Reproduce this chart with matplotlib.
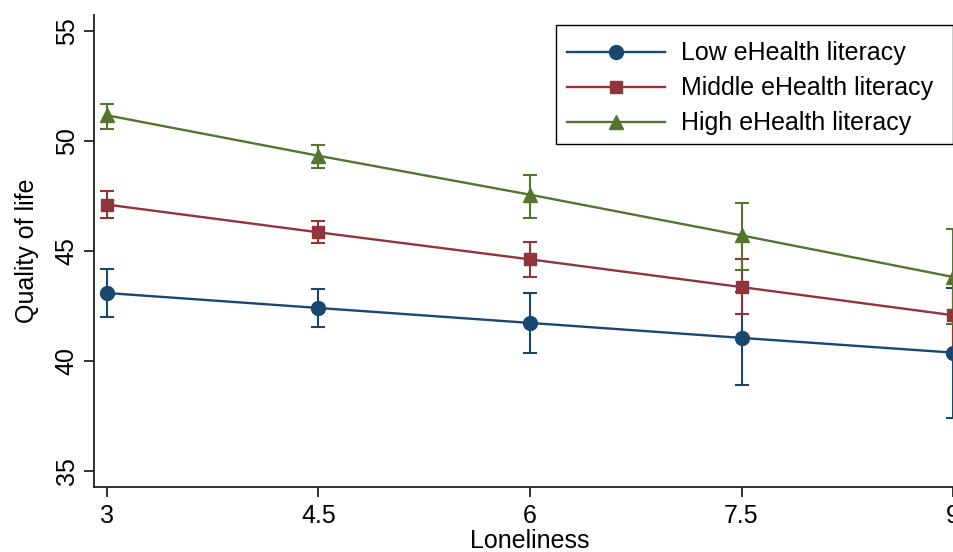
import matplotlib.pyplot as plt
from matplotlib.lines import Line2D
from matplotlib.patches import Rectangle

plt.rcParams['font.family'] = ['Liberation Sans', 'DejaVu Sans']

loneliness = [3, 4.5, 6, 7.5, 9]
tick_labels = ['3', '4.5', '6', '7.5', '9']

low_mean = [43.09, 42.41, 41.73, 41.05, 40.38]
low_lo = [42.00, 41.55, 40.36, 38.93, 37.41]
low_hi = [44.20, 43.29, 43.11, 43.15, 43.32]

mid_mean = [47.11, 45.85, 44.62, 43.36, 42.08]
mid_lo = [46.50, 45.38, 43.84, 42.12, 40.28]
mid_hi = [47.75, 46.35, 45.41, 44.62, 43.88]

high_mean = [51.17, 49.33, 47.56, 45.71, 43.82]
high_lo = [50.55, 48.77, 46.50, 44.15, 41.70]
high_hi = [51.70, 49.84, 48.47, 47.20, 45.99]

series = [
    ('Low eHealth literacy', low_mean, low_lo, low_hi, '#1a476f', 'o', 10),
    ('Middle eHealth literacy', mid_mean, mid_lo, mid_hi, '#90353b', 's', 9),
    ('High eHealth literacy', high_mean, high_lo, high_hi, '#55752f', '^', 10.5),
]

W, H = 954, 552
fig = plt.figure(figsize=(W / 100, H / 100), dpi=100)
ax = fig.add_axes([94 / W, 1 - 487 / H, 872 / W, 472 / H])

handles = []
for name, m, lo, hi, col, mk, ms in series:
    err = [[a - b for a, b in zip(m, lo)], [b - a for a, b in zip(m, hi)]]
    ax.errorbar(loneliness, m, yerr=err, fmt='none', ecolor=col,
                elinewidth=1.5, capsize=5, capthick=1.5, zorder=2)
    ax.plot(loneliness, m, color=col, lw=1.7, marker=mk, markersize=ms,
            zorder=3, clip_on=False)
    handles.append(Line2D([], [], color=col, lw=1.7, marker=mk,
                          markersize=ms, label=name))

ax.set_xlim(2.908, 9.092)
ax.set_ylim(34.27, 55.73)
ax.set_xticks(loneliness)
ax.set_xticklabels(tick_labels)
ax.set_yticks([35, 40, 45, 50, 55])
ax.tick_params(axis='both', labelsize=18, length=7, width=1.3, direction='out',
               colors='#222222', labelcolor='black')
ax.tick_params(axis='x', pad=5)
ax.tick_params(axis='y', pad=4)
for lab in ax.get_yticklabels():
    lab.set_rotation(90)
    lab.set_va('center')
ax.spines['top'].set_visible(False)
ax.spines['right'].set_visible(False)
for s in ('left', 'bottom'):
    ax.spines[s].set_linewidth(1.3)
    ax.spines[s].set_color('#222222')

ax.set_xlabel('Loneliness', fontsize=18, labelpad=1)
ax.set_ylabel('Quality of life', fontsize=18, labelpad=11)

# legend entries without frame, frame drawn separately (Stata-like box)
leg = fig.legend(handles=handles, loc='upper left',
                 bbox_to_anchor=(556 / W, 1 - 144 / H, 397 / W, 114 / H),
                 mode='expand', fontsize=18, frameon=False,
                 handlelength=3.9, handletextpad=0.65,
                 labelspacing=0.44, borderpad=0.45, borderaxespad=0)
fig.patches.append(Rectangle((556 / W, 1 - 144 / H), 397 / W, 119 / H,
                             transform=fig.transFigure, fill=False,
                             edgecolor='black', lw=1.0))

fig.savefig('out.png', dpi=100)
